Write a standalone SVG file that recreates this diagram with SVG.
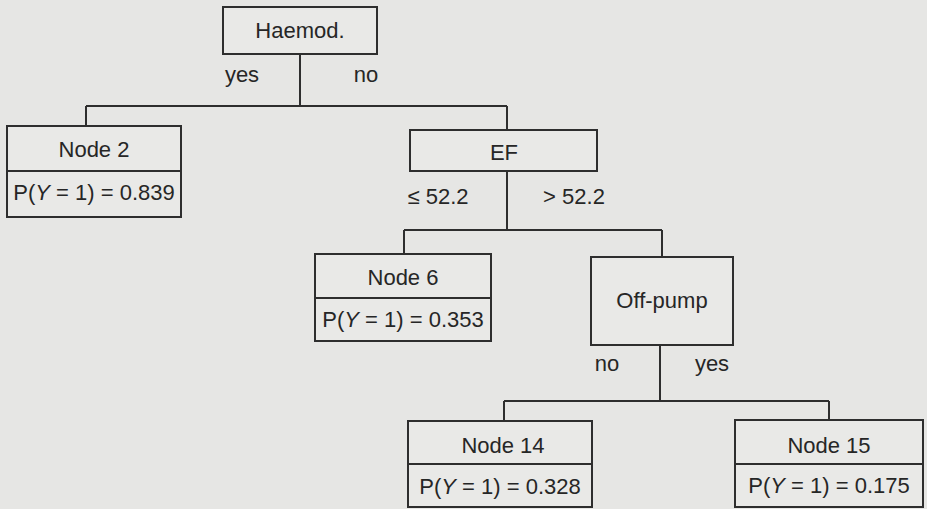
<svg xmlns="http://www.w3.org/2000/svg" width="927" height="509" viewBox="0 0 927 509">
<style>
.box{fill:#e9e9e7;stroke:#2e2e2e;stroke-width:2}
.ln{fill:none;stroke:#2e2e2e;stroke-width:2}
text{font-family:"Liberation Sans",Arial,sans-serif;font-size:22px;fill:#262626;text-anchor:middle}
</style>
<rect x="0" y="0" width="927" height="509" fill="#e6e6e4"/>
<g id="connectors">
<path class="ln" d="M300,54 V106 M86,106 H507 M86,106 V126 M507,106 V130"/>
<path class="ln" d="M507,171 V230 M404,230 H662 M404,230 V254 M662,230 V257"/>
<path class="ln" d="M660,345 V401 M504,401 H829 M504,401 V421 M829,401 V420"/>
<text x="242" y="82">yes</text>
<text x="366" y="82">no</text>
<text x="438" y="204">≤ 52.2</text>
<text x="574" y="204">&gt; 52.2</text>
<text x="607" y="371">no</text>
<text x="712" y="371">yes</text>
</g>
<g id="haemod">
<rect class="box" x="223" y="7" width="154" height="47"/>
<text x="300" y="38">Haemod.</text>
</g>
<g id="node2">
<rect class="box" x="7" y="126" width="174" height="91"/>
<line class="ln" x1="7" y1="171" x2="181" y2="171"/>
<text x="94" y="157">Node 2</text>
<text x="94" y="200">P(<tspan font-style="italic">Y</tspan> = 1) = 0.839</text>
</g>
<g id="ef">
<rect class="box" x="410" y="130" width="187" height="41"/>
<text x="504" y="160">EF</text>
</g>
<g id="node6">
<rect class="box" x="315" y="254" width="176" height="87"/>
<line class="ln" x1="315" y1="298" x2="491" y2="298"/>
<text x="403" y="285">Node 6</text>
<text x="403" y="327">P(<tspan font-style="italic">Y</tspan> = 1) = 0.353</text>
</g>
<g id="offpump">
<rect class="box" x="591" y="257" width="142" height="88"/>
<text x="662" y="308">Off-pump</text>
</g>
<g id="node14">
<rect class="box" x="408" y="421" width="184" height="86"/>
<line class="ln" x1="408" y1="464" x2="592" y2="464"/>
<text x="503" y="453">Node 14</text>
<text x="500" y="494">P(<tspan font-style="italic">Y</tspan> = 1) = 0.328</text>
</g>
<g id="node15">
<rect class="box" x="735" y="420" width="188" height="87"/>
<line class="ln" x1="735" y1="464" x2="923" y2="464"/>
<text x="829" y="453">Node 15</text>
<text x="829" y="493">P(<tspan font-style="italic">Y</tspan> = 1) = 0.175</text>
</g>
</svg>
